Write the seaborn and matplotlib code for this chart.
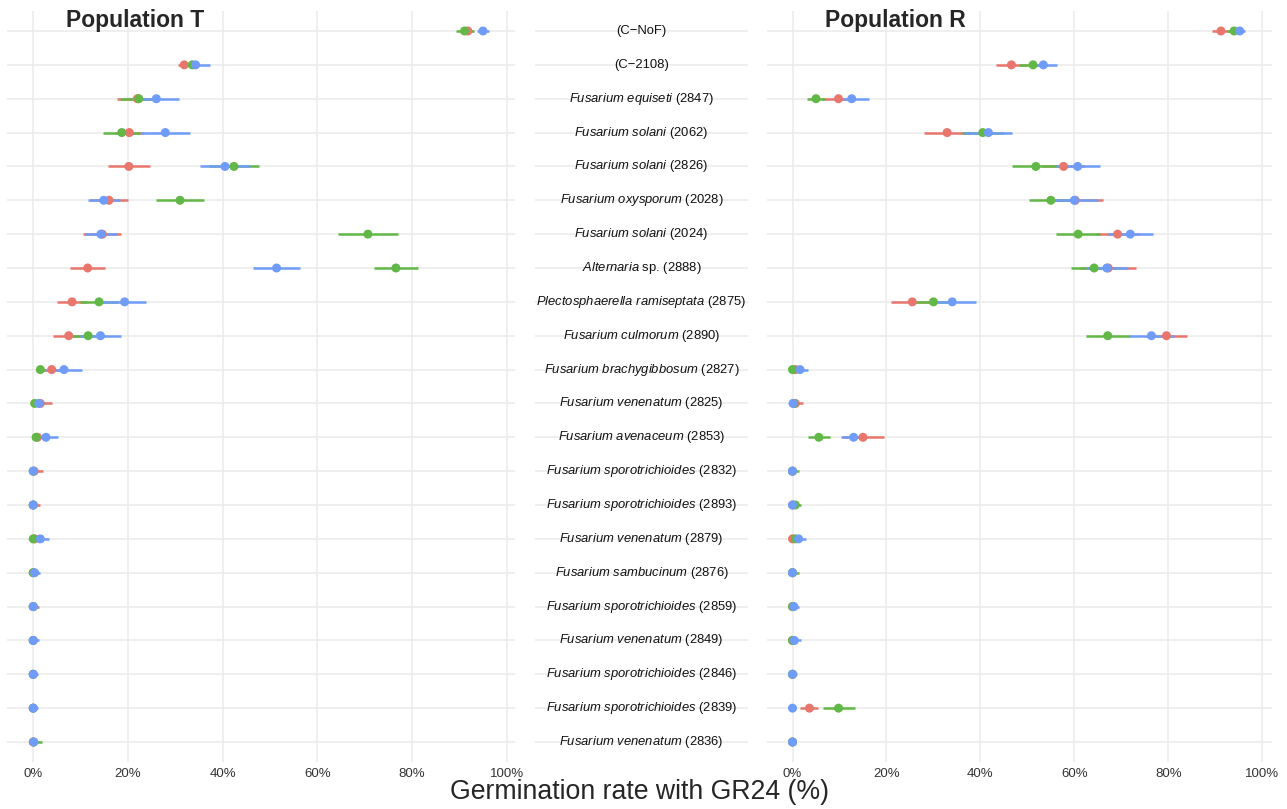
import numpy as np
import pandas as pd
import matplotlib
matplotlib.use("Agg")
import matplotlib.pyplot as plt
import seaborn as sns

# ---- data -----------------------------------------------------------------
ITALIC = ["", "", "Fusarium equiseti", "Fusarium solani", "Fusarium solani",
          "Fusarium oxysporum", "Fusarium solani", "Alternaria",
          "Plectosphaerella ramiseptata", "Fusarium culmorum",
          "Fusarium brachygibbosum", "Fusarium venenatum", "Fusarium avenaceum",
          "Fusarium sporotrichioides", "Fusarium sporotrichioides",
          "Fusarium venenatum", "Fusarium sambucinum",
          "Fusarium sporotrichioides", "Fusarium venenatum",
          "Fusarium sporotrichioides", "Fusarium sporotrichioides",
          "Fusarium venenatum"]
PLAIN = ["(C\u2212NoF)", "(C\u22122108)", "(2847)", "(2062)", "(2826)", "(2028)",
         "(2024)", "sp. (2888)", "(2875)", "(2890)", "(2827)", "(2825)",
         "(2853)", "(2832)", "(2893)", "(2879)", "(2876)", "(2859)", "(2849)",
         "(2846)", "(2839)", "(2836)"]

GROUPS = ["G1", "G2", "G3"]
COLORS = ["#E8766D", "#62B846", "#6F9CF9"]

# Population T: germination (%) and CI half-width per group
T_G1 = [91.8, 31.9, 22.0, 20.3, 20.2, 16.0, 14.6, 11.5, 8.2, 7.5, 3.9, 1.5,
        0.9, 0.2, 0.0, 0.3, 0.0, 0.0, 0.0, 0.0, 0.0, 0.0]
T_G1_ERR = [1.0, 1.4, 4.4, 3.0, 4.4, 4.1, 4.0, 3.7, 3.2, 3.4, 2.0, 2.4,
            0.9, 1.8, 1.5, 0.8, 0.5, 1.3, 0.8, 0.6, 0.6, 0.5]
T_G2 = [91.1, 33.6, 22.3, 18.7, 42.4, 31.0, 70.7, 76.6, 13.9, 11.6, 1.5, 0.3,
        0.6, 0.0, 0.0, 0.0, 0.0, 0.0, 0.0, 0.0, 0.0, 0.1]
T_G2_ERR = [1.9, 1.5, 4.0, 3.9, 5.2, 5.1, 6.3, 4.6, 4.0, 3.5, 0.9, 0.3,
            0.6, 0.3, 0.5, 0.5, 1.0, 0.5, 0.5, 0.5, 0.5, 1.7]
T_G3 = [95.0, 34.3, 26.0, 27.9, 40.5, 14.9, 14.3, 51.4, 19.3, 14.2, 6.5, 1.2,
        2.7, 0.0, 0.0, 1.5, 0.3, 0.0, 0.0, 0.0, 0.0, 0.1]
T_G3_ERR = [1.3, 3.1, 4.7, 5.2, 5.2, 3.4, 3.3, 5.0, 4.5, 4.4, 3.8, 1.2,
            2.6, 0.5, 0.5, 1.8, 1.2, 1.0, 1.3, 1.1, 1.1, 1.0]

# Population R
R_G1 = [91.2, 46.6, 9.8, 32.9, 57.7, 60.2, 69.2, 67.2, 25.5, 79.6, 0.6, 0.6,
        15.0, 0.0, 0.0, 0.0, 0.0, 0.0, 0.0, 0.0, 3.6, 0.0]
R_G1_ERR = [1.9, 3.3, 3.5, 4.9, 4.5, 5.9, 4.5, 6.0, 4.5, 4.4, 1.0, 1.6,
            4.4, 0.3, 0.3, 0.5, 0.3, 0.3, 0.3, 0.3, 1.9, 0.3]
R_G2 = [94.0, 51.2, 5.0, 40.5, 51.8, 55.0, 60.8, 64.2, 30.0, 67.1, 0.0, 0.3,
        5.6, 0.0, 0.6, 0.6, 0.0, 0.0, 0.0, 0.0, 9.8, 0.0]
R_G2_ERR = [1.5, 3.0, 1.9, 4.5, 5.0, 4.6, 4.7, 5.0, 4.5, 4.7, 0.5, 0.5,
            2.4, 1.3, 1.2, 0.8, 1.3, 0.5, 0.5, 1.0, 3.4, 0.3]
R_G3 = [95.2, 53.4, 12.6, 41.7, 60.7, 60.0, 71.9, 66.9, 34.0, 76.4, 1.6, 0.1,
        13.0, 0.0, 0.0, 1.3, 0.0, 0.3, 0.4, 0.0, 0.0, 0.0]
R_G3_ERR = [1.2, 2.8, 3.7, 5.1, 4.7, 5.1, 4.8, 4.5, 5.0, 4.8, 1.8, 0.5,
            2.6, 0.5, 0.3, 1.6, 0.3, 1.1, 1.4, 0.3, 0.3, 0.3]


def build_frame(values, errors):
    frames = []
    for grp, val, err in zip(GROUPS, values, errors):
        val = np.array(val)
        err = np.array(err)
        frames.append(pd.DataFrame({
            "row": np.arange(len(val)),
            "group": grp,
            "rate": val,
            "lo": np.clip(val - err, 0, 100),
            "hi": np.clip(val + err, 0, 100),
        }))
    return pd.concat(frames, ignore_index=True)


df_t = build_frame([T_G1, T_G2, T_G3], [T_G1_ERR, T_G2_ERR, T_G3_ERR])
df_r = build_frame([R_G1, R_G2, R_G3], [R_G1_ERR, R_G2_ERR, R_G3_ERR])

# ---- style ----------------------------------------------------------------
sns.set_theme(style="whitegrid")
plt.rcParams["font.family"] = ["Liberation Sans", "DejaVu Sans"]
plt.rcParams["mathtext.fontset"] = "custom"
plt.rcParams["mathtext.rm"] = "Liberation Sans"
plt.rcParams["mathtext.it"] = "Liberation Sans:italic"

GRID = "#EBEBEB"
N = len(PLAIN)
YLIM = (N - 1 + 0.6, -0.6)

fig = plt.figure(figsize=(12.87, 8.09), dpi=100)
bottom, top = 0.0577, 0.9868
ax_t = fig.add_axes([0.0054, bottom, 0.3947, top - bottom])
ax_m = fig.add_axes([0.4157, bottom, 0.1655, top - bottom])
ax_r = fig.add_axes([0.5957, bottom, 0.3924, top - bottom])


def draw_panel(ax, df, xlim):
    palette = dict(zip(GROUPS, COLORS))
    # error lines first (in group order), points on top
    for grp in GROUPS:
        sub = df[df["group"] == grp]
        ax.hlines(sub["row"], sub["lo"], sub["hi"], color=palette[grp],
                  lw=1.8, zorder=2, capstyle="butt")
    sns.scatterplot(data=df, x="rate", y="row", hue="group", hue_order=GROUPS,
                    palette=palette, s=42, linewidth=0, legend=False,
                    ax=ax, zorder=3)
    ax.set_xlim(*xlim)
    ax.set_ylim(*YLIM)
    ax.set_xticks([0, 20, 40, 60, 80, 100])
    ax.set_xticklabels(["0%", "20%", "40%", "60%", "80%", "100%"])
    ax.set_yticks(range(N))
    ax.set_yticklabels([])
    ax.set_xlabel("")
    ax.set_ylabel("")
    ax.tick_params(axis="both", length=0, pad=4, labelsize=9.5,
                   labelcolor="#333333")
    ax.grid(True, color=GRID, lw=1.1)
    ax.set_axisbelow(True)
    for sp in ax.spines.values():
        sp.set_visible(False)


draw_panel(ax_t, df_t, (-5.55, 101.75))
draw_panel(ax_r, df_r, (-5.5, 102.0))

# middle column of strain labels
ax_m.set_xlim(0, 1)
ax_m.set_ylim(*YLIM)
ax_m.set_yticks(range(N))
ax_m.set_yticklabels([])
ax_m.set_xticks([])
ax_m.tick_params(length=0)
ax_m.grid(True, axis="y", color=GRID, lw=1.1)
ax_m.set_axisbelow(True)
for sp in ax_m.spines.values():
    sp.set_visible(False)
for i, (it, pl) in enumerate(zip(ITALIC, PLAIN)):
    if it:
        label = r"$\mathit{" + it.replace(" ", r"\ ") + "}$ " + pl
    else:
        label = pl
    ax_m.text(0.5, i, label, ha="center", va="center", fontsize=9.4,
              color="#111111")

fig.text(135 / 1287, 0.975, "Population T", ha="center", va="center",
         fontsize=16.5, fontweight="bold")
fig.text(895 / 1287, 0.975, "Population R", ha="center", va="center",
         fontsize=16.5, fontweight="bold")
fig.text(639 / 1287, 0.021, "Germination rate with GR24 (%)", ha="center",
         va="center", fontsize=19.2)

fig.savefig("out.png", dpi=100)
